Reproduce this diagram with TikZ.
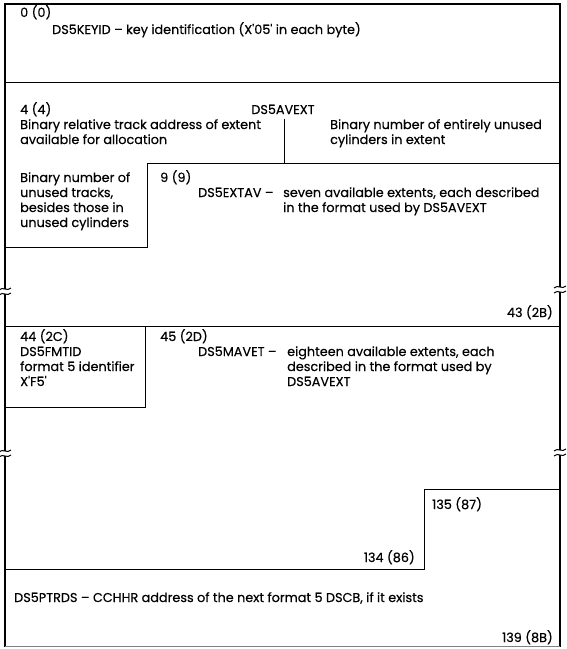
\documentclass[tikz,border=0pt]{standalone}
\usepackage{fontspec}
\setmainfont{Poppins}[FakeBold=0.4]
\usepackage{tikz}
\usetikzlibrary{positioning}

\begin{document}
\begin{tikzpicture}[x=1pt,y=-1pt]
    \tikzstyle{fld}=[inner sep=0pt,anchor=base west,align=left,font=\fontsize{12.8}{15}\selectfont]
    \tikzstyle{rim}=[line width=2.6pt]
    \tikzstyle{cut}=[line width=0.9pt]
    \tikzstyle{brk}=[line width=1pt]
    \useasboundingbox (0,0) rectangle (566,649);

    % outer frame, broken twice on each side
    \draw[rim] (5,289) -- (5,4) -- (560,4) -- (560,287);
    \draw[rim] (5,294) -- (5,451);
    \draw[rim] (560,292) -- (560,450);
    \draw[rim] (5,456) -- (5,647);
    \draw[rim] (560,455) -- (560,647);
    \draw[cut,gray] (5,646) -- (560,646);
    \draw[brk] (-1,290) .. controls (3,286) and (7,292) .. (11,288);
    \draw[brk] (-1,295) .. controls (3,291) and (7,297) .. (11,293);
    \draw[brk] (554,288) .. controls (558,284) and (562,290) .. (566,286);
    \draw[brk] (554,293) .. controls (558,289) and (562,295) .. (566,291);
    \draw[brk] (-1,452) .. controls (3,448) and (7,454) .. (11,450);
    \draw[brk] (-1,457) .. controls (3,453) and (7,459) .. (11,455);
    \draw[brk] (554,451) .. controls (558,447) and (562,453) .. (566,449);
    \draw[brk] (554,456) .. controls (558,452) and (562,458) .. (566,454);

    % field boundaries
    \draw[cut] (5,82) -- (560,82);
    \draw[cut] (284,119) -- (284,163);
    \draw[cut] (5,247) -- (147,247) -- (147,163) -- (560,163);
    \draw[cut] (5,326) -- (560,326);
    \draw[cut] (145,326) -- (145,407) -- (5,407);
    \draw[cut] (5,569) -- (424,569) -- (424,489) -- (560,489);

    % texts (multi-line nodes sit on their last baseline)
    \node[fld] (O0) at (20,17) {0 (0)};
    \node[fld] (KEYID) at (52,34) {DS5KEYID -- key identification (X\textquotesingle 05\textquotesingle\ in each byte)};

    \node[fld] (O4) at (20,114) {4 (4)};
    \node[fld,anchor=base] (AVEXT) at (283,114) {DS5AVEXT};
    \node[fld] (RTA) at (20,144) {Binary relative track address of extent\\available for allocation};
    \node[fld] (CYL) at (330,144) {Binary number of entirely unused\\cylinders in extent};
    \node[fld] (TRK) at (20,227) {Binary number of\\unused tracks,\\besides those in\\unused cylinders};

    \node[fld] (O9) at (160,182) {9 (9)};
    \node[fld] (EXTAV) at (198,197) {DS5EXTAV --};
    \node[fld] (EXTAVd) at (283,212) {seven available extents, each described\\in the format used by DS5AVEXT};
    \node[fld,anchor=base east] (O43) at (553,317) {43 (2B)};

    \node[fld] (FMTID) at (20,386) {44 (2C)\\DS5FMTID\\format 5 identifier\\X\textquotesingle F5\textquotesingle};
    \node[fld] (O45) at (160,341) {45 (2D)};
    \node[fld] (MAVET) at (198,356) {DS5MAVET --};
    \node[fld] (MAVETd) at (287,386) {eighteen available extents, each\\described in the format used by\\DS5AVEXT};

    \node[fld] (O135) at (432,509) {135 (87)};
    \node[fld,anchor=base east] (O134) at (415,562) {134 (86)};
    \node[fld] (PTRDS) at (14,602) {DS5PTRDS -- CCHHR address of the next format 5 DSCB, if it exists};
    \node[fld,anchor=base east] (O139) at (553,642) {139 (8B)};
\end{tikzpicture}
\end{document}
